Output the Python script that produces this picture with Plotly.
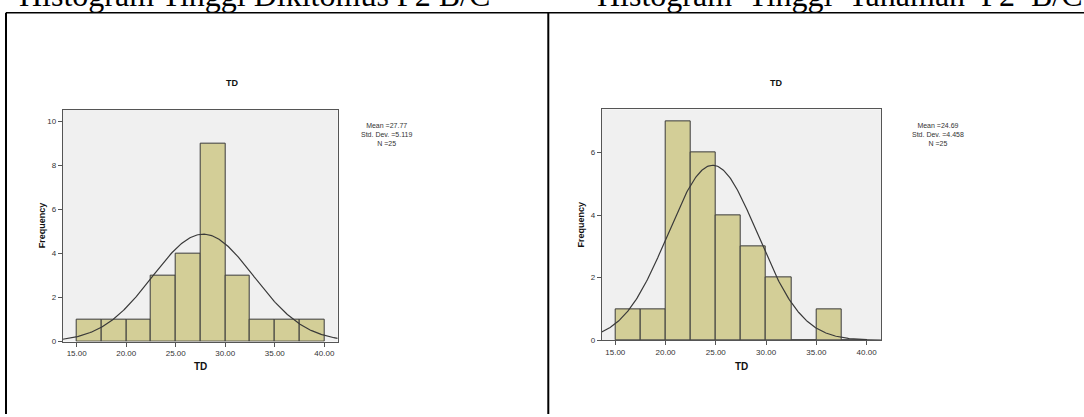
import numpy as np
import plotly.graph_objects as go

W, H = 1084, 417

# ---- data ----
bin_left_edges = [15.0, 17.5, 20.0, 22.5, 25.0, 27.5, 30.0, 32.5, 35.0, 37.5]
bin_width = 2.5
freq_left = [1, 1, 1, 3, 4, 9, 3, 1, 1, 1]
freq_right = [1, 1, 7, 6, 4, 3, 2, 0, 1, 0]
stats_left = {"mean": 27.77, "sd": 5.119, "n": 25}
stats_right = {"mean": 24.69, "sd": 4.458, "n": 25}
x_ticks = [15, 20, 25, 30, 35, 40]
y_ticks_left = [0, 2, 4, 6, 8, 10]
y_ticks_right = [0, 2, 4, 6]
heading_left_words = ["Histogram", "Tinggi", "Dikitomus", "F2", "B/C"]
heading_right_words = ["Histogram", "Tinggi", "Tanaman", "F2", "B/C"]


def px(x):
    return x / W


def py(y):
    return 1 - y / H


BAR_COLOR = "#D3CE97"
LINE_COLOR = "#3a3a3a"

fig = go.Figure()

panels = [
    dict(freq=freq_left, stats=stats_left, xa="x", ya="y",
         xdom=[px(62.7), px(337.7)], ydom=[py(345.7), py(111)],
         xr=[13.59, 41.35], yr=[0, 10.52], yt=y_ticks_left,
         cx=201, tx=232, sx=386.5),
    dict(freq=freq_right, stats=stats_right, xa="x2", ya="y2",
         xdom=[px(601.7), px(881)], ydom=[py(344.3), py(110.7)],
         xr=[13.65, 41.43], yr=[0, 7.38], yt=y_ticks_right,
         cx=741, tx=775.7, sx=938),
]

annotations = []
for i, p in enumerate(panels):
    centers = [e + bin_width / 2 for e in bin_left_edges]
    fig.add_trace(go.Bar(
        x=centers, y=p["freq"], width=bin_width,
        marker=dict(color=BAR_COLOR, line=dict(color=LINE_COLOR, width=1)),
        xaxis=p["xa"], yaxis=p["ya"], showlegend=False))
    s = p["stats"]
    xs = np.linspace(p["xr"][0], p["xr"][1], 300)
    ys = s["n"] * bin_width / (s["sd"] * np.sqrt(2 * np.pi)) * np.exp(-0.5 * ((xs - s["mean"]) / s["sd"]) ** 2)
    fig.add_trace(go.Scatter(
        x=xs, y=ys, mode="lines", line=dict(color=LINE_COLOR, width=1.2),
        xaxis=p["xa"], yaxis=p["ya"], showlegend=False))

    suffix = "" if i == 0 else "2"
    axis_common = dict(showline=True, linecolor="#555555", linewidth=1, mirror=True,
                       showgrid=False, zeroline=False, ticks="outside", ticklen=4,
                       tickcolor="#555555", tickfont=dict(family="Arial", size=8, color="#333333"))
    fig.update_layout(**{
        "xaxis" + suffix: dict(domain=p["xdom"], range=p["xr"], tickvals=x_ticks,
                               tickformat=".2f", anchor="y" + suffix, **axis_common),
        "yaxis" + suffix: dict(domain=p["ydom"], range=p["yr"], tickvals=p["yt"],
                               anchor="x" + suffix, **axis_common),
    })
    common = dict(xref="paper", yref="paper", xanchor="center", yanchor="middle", showarrow=False)
    # chart title
    annotations.append(dict(text="<b>TD</b>", x=px(p["tx"]), y=py(84),
                            font=dict(family="Arial", size=9, color="#111"), **common))
    # x axis title
    annotations.append(dict(text="<b>TD</b>", x=px(p["cx"]), y=py(370.5),
                            font=dict(family="Arial", size=10, color="#111"), **common))
    # y axis title
    annotations.append(dict(text="<b>Frequency</b>", x=px(p["xdom"][0] * W - 21),
                            y=(p["ydom"][0] + p["ydom"][1]) / 2, textangle=-90,
                            font=dict(family="Arial", size=9, color="#111"), **common))
    # stats
    annotations.append(dict(text=f"Mean ={s['mean']:.2f}<br>Std. Dev. ={s['sd']:.3f}<br>N ={s['n']}",
                            x=px(p["sx"]), y=py(136), align="center",
                            font=dict(family="Arial", size=7, color="#333"), **common))

# headings (cut at the top of the page)
head = dict(xref="paper", yref="paper", xanchor="left", yanchor="bottom", showarrow=False,
            font=dict(family="Liberation Serif", size=32, color="#000"))
annotations.append(dict(text=" ".join(heading_left_words), x=px(17), y=py(15), **head))
annotations.append(dict(text=("\u00a0" * 2).join(heading_right_words), x=px(595), y=py(15), **head))

shapes = [
    dict(type="line", xref="paper", yref="paper", x0=px(6), x1=px(W + 2), y0=py(13), y1=py(13),
         line=dict(color="black", width=1.5)),
    dict(type="line", xref="paper", yref="paper", x0=px(6), x1=px(6), y0=py(13), y1=py(H + 2),
         line=dict(color="black", width=2)),
    dict(type="line", xref="paper", yref="paper", x0=px(548.3), x1=px(548.3), y0=py(13), y1=py(H + 2),
         line=dict(color="black", width=2)),
]

fig.update_layout(width=W, height=H, margin=dict(l=0, r=0, t=0, b=0),
                  paper_bgcolor="white", plot_bgcolor="#F0F0F0", bargap=0,
                  annotations=annotations, shapes=shapes, showlegend=False)

fig.write_html("out.html", config={"displayModeBar": False},
               post_script="document.body.style.margin='0';document.body.style.overflow='hidden';")
